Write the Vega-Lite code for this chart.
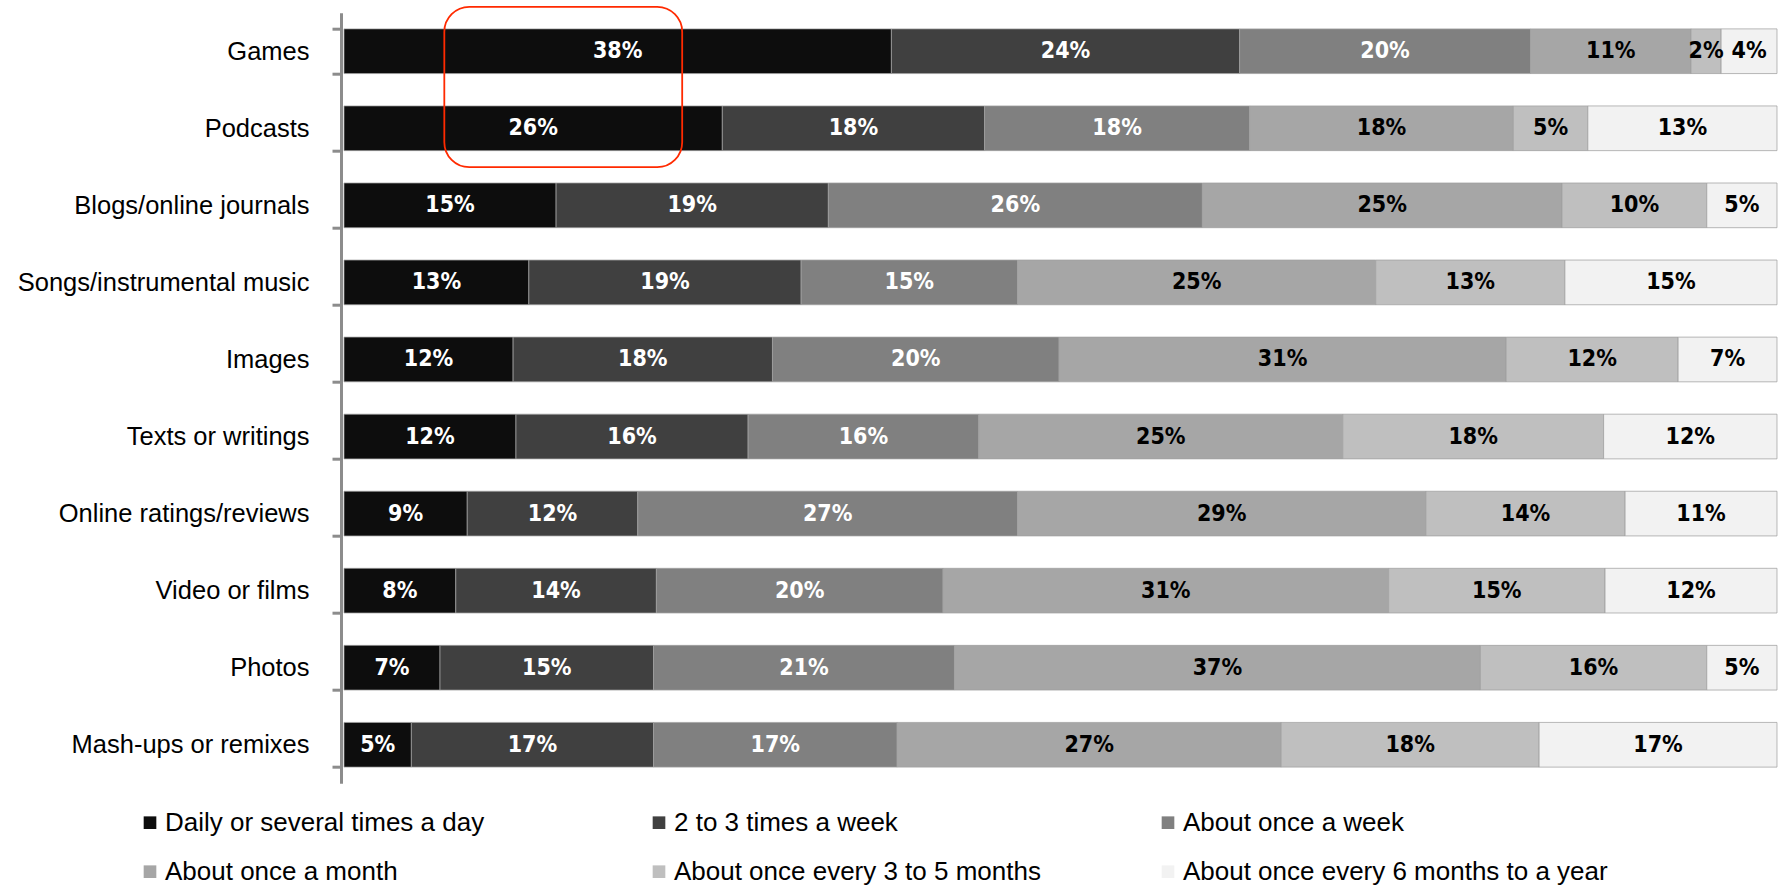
{
  "$schema": "https://vega.github.io/schema/vega-lite/v6.json",
  "width": 1433,
  "height": 770.6,
  "autosize": {"type": "none"},
  "padding": {"left": 344, "top": 12.7, "right": 2, "bottom": 105},
  "config": {"view": {"stroke": null}},
  "datasets": {
    "bars": [
      {"c": "Games", "f": "Daily or several times a day", "o": 1, "v": 38.2, "t": "38%"},
      {"c": "Games", "f": "2 to 3 times a week", "o": 2, "v": 24.3, "t": "24%"},
      {"c": "Games", "f": "About once a week", "o": 3, "v": 20.3, "t": "20%"},
      {"c": "Games", "f": "About once a month", "o": 4, "v": 11.2, "t": "11%"},
      {"c": "Games", "f": "About once every 3 to 5 months", "o": 5, "v": 2.1, "t": "2%"},
      {"c": "Games", "f": "About once every 6 months to a year", "o": 6, "v": 3.9, "t": "4%"},
      {"c": "Podcasts", "f": "Daily or several times a day", "o": 1, "v": 26.4, "t": "26%"},
      {"c": "Podcasts", "f": "2 to 3 times a week", "o": 2, "v": 18.3, "t": "18%"},
      {"c": "Podcasts", "f": "About once a week", "o": 3, "v": 18.5, "t": "18%"},
      {"c": "Podcasts", "f": "About once a month", "o": 4, "v": 18.4, "t": "18%"},
      {"c": "Podcasts", "f": "About once every 3 to 5 months", "o": 5, "v": 5.2, "t": "5%"},
      {"c": "Podcasts", "f": "About once every 6 months to a year", "o": 6, "v": 13.2, "t": "13%"},
      {"c": "Blogs/online journals", "f": "Daily or several times a day", "o": 1, "v": 14.8, "t": "15%"},
      {"c": "Blogs/online journals", "f": "2 to 3 times a week", "o": 2, "v": 19.0, "t": "19%"},
      {"c": "Blogs/online journals", "f": "About once a week", "o": 3, "v": 26.1, "t": "26%"},
      {"c": "Blogs/online journals", "f": "About once a month", "o": 4, "v": 25.1, "t": "25%"},
      {"c": "Blogs/online journals", "f": "About once every 3 to 5 months", "o": 5, "v": 10.1, "t": "10%"},
      {"c": "Blogs/online journals", "f": "About once every 6 months to a year", "o": 6, "v": 4.9, "t": "5%"},
      {"c": "Songs/instrumental music", "f": "Daily or several times a day", "o": 1, "v": 12.9, "t": "13%"},
      {"c": "Songs/instrumental music", "f": "2 to 3 times a week", "o": 2, "v": 19.0, "t": "19%"},
      {"c": "Songs/instrumental music", "f": "About once a week", "o": 3, "v": 15.1, "t": "15%"},
      {"c": "Songs/instrumental music", "f": "About once a month", "o": 4, "v": 25.0, "t": "25%"},
      {"c": "Songs/instrumental music", "f": "About once every 3 to 5 months", "o": 5, "v": 13.2, "t": "13%"},
      {"c": "Songs/instrumental music", "f": "About once every 6 months to a year", "o": 6, "v": 14.8, "t": "15%"},
      {"c": "Images", "f": "Daily or several times a day", "o": 1, "v": 11.8, "t": "12%"},
      {"c": "Images", "f": "2 to 3 times a week", "o": 2, "v": 18.1, "t": "18%"},
      {"c": "Images", "f": "About once a week", "o": 3, "v": 20.0, "t": "20%"},
      {"c": "Images", "f": "About once a month", "o": 4, "v": 31.2, "t": "31%"},
      {"c": "Images", "f": "About once every 3 to 5 months", "o": 5, "v": 12.0, "t": "12%"},
      {"c": "Images", "f": "About once every 6 months to a year", "o": 6, "v": 6.9, "t": "7%"},
      {"c": "Texts or writings", "f": "Daily or several times a day", "o": 1, "v": 12.0, "t": "12%"},
      {"c": "Texts or writings", "f": "2 to 3 times a week", "o": 2, "v": 16.2, "t": "16%"},
      {"c": "Texts or writings", "f": "About once a week", "o": 3, "v": 16.1, "t": "16%"},
      {"c": "Texts or writings", "f": "About once a month", "o": 4, "v": 25.4, "t": "25%"},
      {"c": "Texts or writings", "f": "About once every 3 to 5 months", "o": 5, "v": 18.2, "t": "18%"},
      {"c": "Texts or writings", "f": "About once every 6 months to a year", "o": 6, "v": 12.1, "t": "12%"},
      {"c": "Online ratings/reviews", "f": "Daily or several times a day", "o": 1, "v": 8.6, "t": "9%"},
      {"c": "Online ratings/reviews", "f": "2 to 3 times a week", "o": 2, "v": 11.9, "t": "12%"},
      {"c": "Online ratings/reviews", "f": "About once a week", "o": 3, "v": 26.5, "t": "27%"},
      {"c": "Online ratings/reviews", "f": "About once a month", "o": 4, "v": 28.5, "t": "29%"},
      {"c": "Online ratings/reviews", "f": "About once every 3 to 5 months", "o": 5, "v": 13.9, "t": "14%"},
      {"c": "Online ratings/reviews", "f": "About once every 6 months to a year", "o": 6, "v": 10.6, "t": "11%"},
      {"c": "Video or films", "f": "Daily or several times a day", "o": 1, "v": 7.8, "t": "8%"},
      {"c": "Video or films", "f": "2 to 3 times a week", "o": 2, "v": 14.0, "t": "14%"},
      {"c": "Video or films", "f": "About once a week", "o": 3, "v": 20.0, "t": "20%"},
      {"c": "Video or films", "f": "About once a month", "o": 4, "v": 31.1, "t": "31%"},
      {"c": "Video or films", "f": "About once every 3 to 5 months", "o": 5, "v": 15.1, "t": "15%"},
      {"c": "Video or films", "f": "About once every 6 months to a year", "o": 6, "v": 12.0, "t": "12%"},
      {"c": "Photos", "f": "Daily or several times a day", "o": 1, "v": 6.7, "t": "7%"},
      {"c": "Photos", "f": "2 to 3 times a week", "o": 2, "v": 14.9, "t": "15%"},
      {"c": "Photos", "f": "About once a week", "o": 3, "v": 21.0, "t": "21%"},
      {"c": "Photos", "f": "About once a month", "o": 4, "v": 36.7, "t": "37%"},
      {"c": "Photos", "f": "About once every 3 to 5 months", "o": 5, "v": 15.8, "t": "16%"},
      {"c": "Photos", "f": "About once every 6 months to a year", "o": 6, "v": 4.9, "t": "5%"},
      {"c": "Mash-ups or remixes", "f": "Daily or several times a day", "o": 1, "v": 4.7, "t": "5%"},
      {"c": "Mash-ups or remixes", "f": "2 to 3 times a week", "o": 2, "v": 16.9, "t": "17%"},
      {"c": "Mash-ups or remixes", "f": "About once a week", "o": 3, "v": 17.0, "t": "17%"},
      {"c": "Mash-ups or remixes", "f": "About once a month", "o": 4, "v": 26.8, "t": "27%"},
      {"c": "Mash-ups or remixes", "f": "About once every 3 to 5 months", "o": 5, "v": 18.0, "t": "18%"},
      {"c": "Mash-ups or remixes", "f": "About once every 6 months to a year", "o": 6, "v": 16.6, "t": "17%"}
    ],
    "note": [
      {"x1": 7.0, "x2": 23.6, "ya": "Games", "yb": "Podcasts"}
    ]
  },
  "layer": [
    {
      "data": {"name": "bars"},
      "mark": {"type": "bar", "stroke": "#a0a0a0", "strokeWidth": 0.75},
      "encoding": {
        "y": {
          "field": "c", "type": "nominal",
          "scale": {
            "domain": ["Games", "Podcasts", "Blogs/online journals", "Songs/instrumental music", "Images", "Texts or writings", "Online ratings/reviews", "Video or films", "Photos", "Mash-ups or remixes"],
            "paddingInner": 0.42, "paddingOuter": 0.21
          },
          "axis": {
            "title": null, "domainColor": "#8c8c8c", "domainWidth": 3,
            "tickColor": "#8c8c8c", "tickWidth": 3, "tickSize": 9, "tickBand": "extent",
            "offset": 3, "labelFont": "Liberation Sans", "labelFontSize": 25.5,
            "labelColor": "#000000", "labelPadding": 23, "labelLimit": 0
          }
        },
        "x": {
          "field": "v", "type": "quantitative", "stack": "zero",
          "scale": {"domain": [0, 100], "nice": false},
          "axis": null
        },
        "color": {
          "field": "f", "type": "nominal",
          "scale": {
            "domain": ["Daily or several times a day", "2 to 3 times a week", "About once a week", "About once a month", "About once every 3 to 5 months", "About once every 6 months to a year"],
            "range": ["#0d0d0d", "#404040", "#808080", "#a6a6a6", "#bfbfbf", "#f2f2f2"]
          },
          "legend": {
            "title": null, "orient": "none", "legendX": -207, "legendY": 797,
            "columns": 3, "direction": "horizontal", "gridAlign": "all",
            "columnPadding": 56, "rowPadding": 23,
            "symbolType": "square", "symbolSize": 160, "symbolStrokeWidth": 0,
            "labelFont": "Liberation Sans", "labelFontSize": 26, "labelColor": "#000000",
            "labelOffset": 2, "labelLimit": 0
          }
        },
        "order": {"field": "o", "type": "quantitative"}
      }
    },
    {
      "data": {"name": "bars"},
      "mark": {"type": "text", "font": "DejaVu Sans Condensed, Liberation Sans", "fontWeight": "bold", "fontSize": 23, "baseline": "middle", "align": "center"},
      "encoding": {
        "y": {"field": "c", "type": "nominal"},
        "x": {"field": "v", "type": "quantitative", "stack": "zero", "bandPosition": 0.5},
        "detail": {"field": "f", "type": "nominal"},
        "order": {"field": "o", "type": "quantitative"},
        "text": {"field": "t", "type": "nominal"},
        "color": {"condition": {"test": "datum.o <= 3", "value": "#ffffff"}, "value": "#000000"}
      }
    },
    {
      "data": {"name": "note"},
      "mark": {"type": "rect", "filled": false, "stroke": "#ff2a00", "strokeWidth": 1.8, "cornerRadius": 25, "yOffset": -22, "y2Offset": 16.5},
      "encoding": {
        "x": {"field": "x1", "type": "quantitative"},
        "x2": {"field": "x2"},
        "y": {"field": "ya", "type": "nominal", "bandPosition": 0},
        "y2": {"field": "yb", "bandPosition": 1}
      }
    }
  ]
}
